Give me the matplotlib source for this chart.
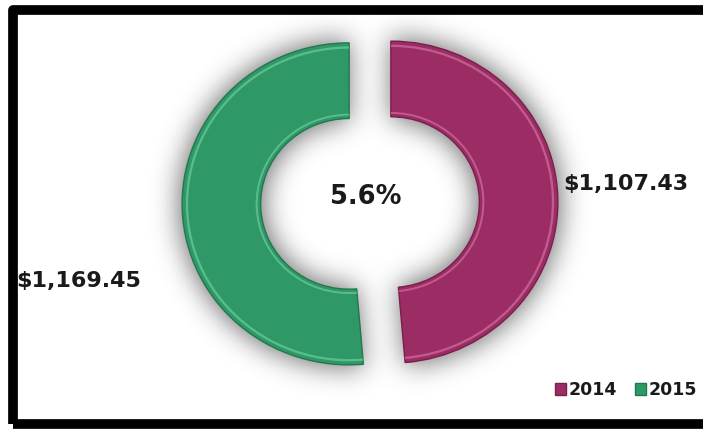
import numpy as np
import matplotlib
matplotlib.use("Agg")
import matplotlib.pyplot as plt
from matplotlib.patches import Rectangle

# Data
years = ["2014", "2015"]
revenue = [1107.43, 1169.45]

colors = ["#9B2D64", "#2E9966"]
edge_colors = ["#7A1E4C", "#22774E"]
highlight = ["#E48AB8", "#86E0B6"]

growth = (revenue[1] - revenue[0]) / revenue[0] * 100

W, H = 703, 429
fig = plt.figure(figsize=(W / 100, H / 100), dpi=100)
fig.patch.set_facecolor("white")
ax = fig.add_axes([0, 0, 1, 1])

# ring geometry (pixel centre and pixels per data unit)
cx_px, cy_px = 370, 203
sx, sy = 167, 161
xlim = (-cx_px / sx, (W - cx_px) / sx)
ylim = ((cy_px - H) / sy, cy_px / sy)
explode = 0.125
inner = 0.53
start = 90

# soft drop shadow around the ring
px = np.arange(W) + 0.5
py = np.arange(H) + 0.5
X = (px[None, :] - cx_px) / sx
Y = (cy_px - py[:, None]) / sy
mask = np.zeros((H, W))
total = sum(revenue)
theta = start
for v in revenue:
    span = 360 * v / total
    t1 = theta - span
    mid = np.deg2rad(theta - span / 2)
    dx = X - explode * np.cos(mid)
    dy = Y - explode * np.sin(mid)
    r = np.hypot(dx, dy)
    ang = np.degrees(np.arctan2(dy, dx))
    rel = (ang - t1) % 360
    mask[(r <= 1.02) & (r >= inner - 0.02) & (rel <= span)] = 1
    theta = t1


def blur(a, s):
    k = np.arange(-3 * s, 3 * s + 1)
    g = np.exp(-k ** 2 / (2.0 * s * s))
    g /= g.sum()
    a = np.apply_along_axis(lambda m: np.convolve(m, g, mode="same"), 0, a)
    a = np.apply_along_axis(lambda m: np.convolve(m, g, mode="same"), 1, a)
    return a


sh = blur(mask, 13)
rgba = np.zeros((H, W, 4))
rgba[..., :3] = 0.35
rgba[..., 3] = np.clip(sh * 0.85, 0, 1)
ax.imshow(rgba, extent=(xlim[0], xlim[1], ylim[0], ylim[1]),
          origin="upper", aspect="auto", zorder=0, interpolation="bilinear")

# main ring
wedges, _ = ax.pie(revenue, colors=colors, startangle=start, counterclock=False,
                   explode=[explode] * 2, radius=1.0,
                   wedgeprops=dict(width=1 - inner, linewidth=1.0))
for w, ec in zip(wedges, edge_colors):
    w.set_edgecolor(ec)
    w.set_zorder(2)

# bevel highlights near outer and inner edges
for rad, wid, a in [(0.978, 0.014, 0.5), (inner + 0.03, 0.012, 0.5)]:
    hw, _ = ax.pie(revenue, colors=highlight, startangle=start, counterclock=False,
                   explode=[explode] * 2, radius=rad,
                   wedgeprops=dict(width=wid, linewidth=0, alpha=a))
    for w in hw:
        w.set_zorder(3)

ax.set_xlim(*xlim)
ax.set_ylim(*ylim)
ax.set_aspect("auto")
ax.axis("off")

# value labels
txt_color = "#1a1a1a"
fig.text(563 / W, 1 - 184 / H, f"${revenue[0]:,.2f}", ha="left", va="center",
         fontsize=16, fontweight="bold", color=txt_color)
fig.text(16 / W, 1 - 281 / H, f"${revenue[1]:,.2f}", ha="left", va="center",
         fontsize=16, fontweight="bold", color=txt_color, zorder=10)
fig.text(366 / W, 1 - 197 / H, f"{growth:.1f}%", ha="center", va="center",
         fontsize=18.5, fontweight="bold", color=txt_color)

# legend
fig.legend(wedges, years, loc="center right", bbox_to_anchor=(697 / W, 1 - 390 / H),
           ncol=2, frameon=False, prop=dict(weight="bold", size=12.5),
           labelcolor=txt_color, handlelength=0.65, handleheight=0.65,
           handletextpad=0.15, columnspacing=1.0, borderpad=0, borderaxespad=0)

# black border frame
frame = Rectangle((12.5 / W, 5 / H), (730 - 12.5) / W, (424 - 9.5) / H,
                  transform=fig.transFigure, fill=False, edgecolor="black",
                  linewidth=7, joinstyle="round")
fig.add_artist(frame)

fig.savefig("out.png", dpi=100, facecolor="white")
